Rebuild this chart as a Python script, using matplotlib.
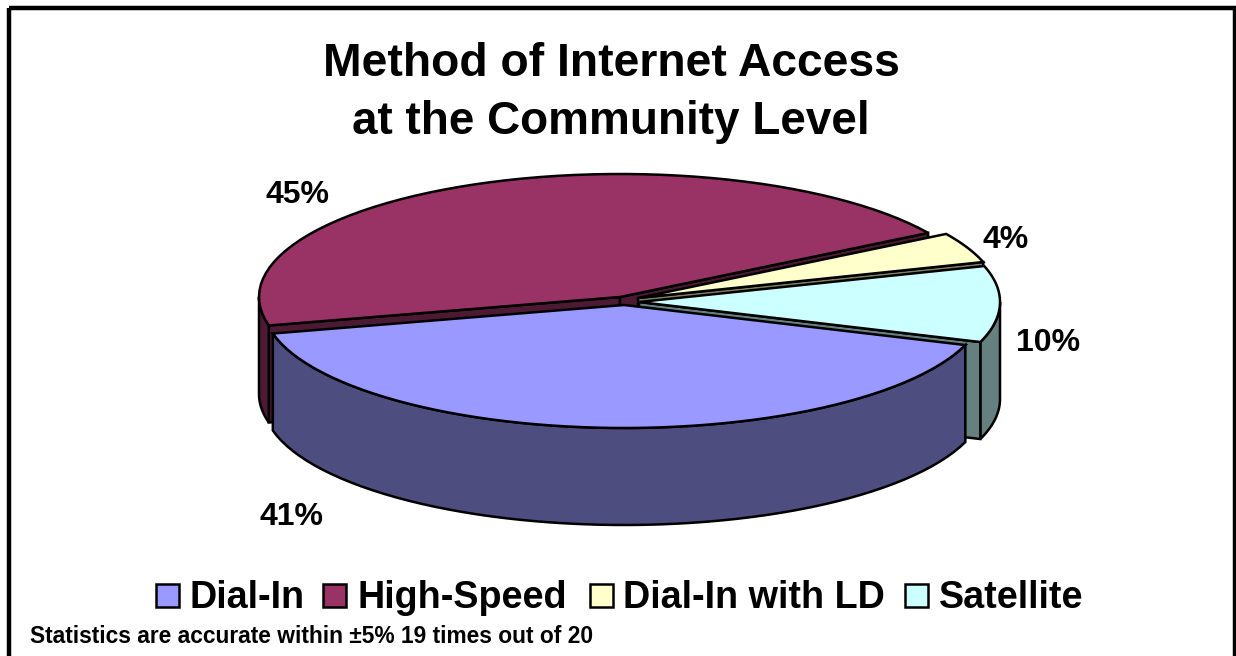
import numpy as np
import matplotlib
matplotlib.use("Agg")
import matplotlib.pyplot as plt
from matplotlib.patches import Polygon, Rectangle

categories = ["Dial-In", "High-Speed", "Dial-In with LD", "Satellite"]
shares = [41, 45, 4, 10]
title_lines = ["Method of Internet Access", "at the Community Level"]
footnote = "Statistics are accurate within ±5% 19 times out of 20"

top_colors = ["#9999FF", "#993366", "#FFFFCC", "#CCFFFF"]
side_colors = ["#4D4D80", "#4D1A33", "#808066", "#668080"]

# pie geometry in canvas pixels
RX, RY = 361, 123
DEPTH = 97
START_ANGLE = -19.0
LINE = 1.8
# exploded centre of each slice
centers = [(624, 305), (620, 297), (638, 298), (639, 302)]
label_pos = [(292, 517), (298, 195), (1006, 240), (1048, 343)]
legend_x = [(156, 190), (323, 357), (590, 623), (905, 939)]

plt.rcParams["font.family"] = ["Liberation Sans", "DejaVu Sans"]
plt.rcParams["font.weight"] = "bold"


def arc(center, a0, a1, n=60):
    t = np.radians(np.linspace(a0, a1, n))
    return np.column_stack([center[0] + RX * np.cos(t), center[1] - RY * np.sin(t)])


def draw_poly(ax, points, color, z):
    ax.add_patch(Polygon(points, closed=True, facecolor=color, edgecolor="black",
                         linewidth=LINE, joinstyle="miter", zorder=z))


def draw_cut_face(ax, center, angle, color, z):
    corner = arc(center, angle, angle, 2)[0]
    tip = np.array(center, dtype=float)
    draw_poly(ax, [tip, corner, corner + [0, DEPTH], tip + [0, DEPTH]], color, z)


fig = plt.figure(figsize=(12.36, 6.56), dpi=100)
ax = fig.add_axes([0, 0, 1, 1])
ax.set_xlim(0, 1236)
ax.set_ylim(656, 0)
ax.axis("off")

# slice angles run clockwise from the start angle
sweeps = np.array(shares) / sum(shares) * 360
ends = START_ANGLE - np.cumsum(sweeps)
starts = ends + sweeps

# painted back to front: High-Speed, Dial-In with LD, Satellite, Dial-In
for z, i in enumerate([1, 2, 3, 0]):
    c = centers[i]
    a0, a1 = starts[i], ends[i]
    base = z * 10

    # the outer wall only shows on the lower half of the ellipse
    for turn in (0, 360):
        hi, lo = min(a0 + turn, 0), max(a1 + turn, -180)
        if hi > lo:
            rim = arc(c, hi, lo)
            draw_poly(ax, np.vstack([rim, (rim + [0, DEPTH])[::-1]]), side_colors[i], base + 2)

    # cut faces turned towards the viewer
    if i == 1:
        draw_cut_face(ax, c, a0, side_colors[i], base + 1)
        draw_cut_face(ax, c, a1, side_colors[i], base + 1)
    if i == 2:
        draw_cut_face(ax, c, a1, side_colors[i], base + 1)
    if i == 3:
        draw_cut_face(ax, c, a1, side_colors[i], base + 3)

    draw_poly(ax, np.vstack([[c], arc(c, a0, a1)]), top_colors[i], base + 4)

ax.add_patch(Rectangle((9, 7.5), 1225.5, 660, fill=False, edgecolor="black", linewidth=3.2, zorder=50))

ax.text(611, 64, title_lines[0], fontsize=33.3, ha="center", va="center")
ax.text(611, 122, title_lines[1], fontsize=33, ha="center", va="center")

for value, (x, y) in zip(shares, label_pos):
    ax.text(x, y, f"{value}%", fontsize=23, ha="center", va="center")

for name, color, (box_x, text_x) in zip(categories, top_colors, legend_x):
    ax.add_patch(Rectangle((box_x, 584), 23, 23, facecolor=color, edgecolor="black", linewidth=LINE))
    ax.text(text_x, 608, name, fontsize=27.2, ha="left", va="baseline")

ax.text(30, 643, footnote, fontsize=16.4, ha="left", va="baseline")

fig.savefig("out.png", dpi=100)
